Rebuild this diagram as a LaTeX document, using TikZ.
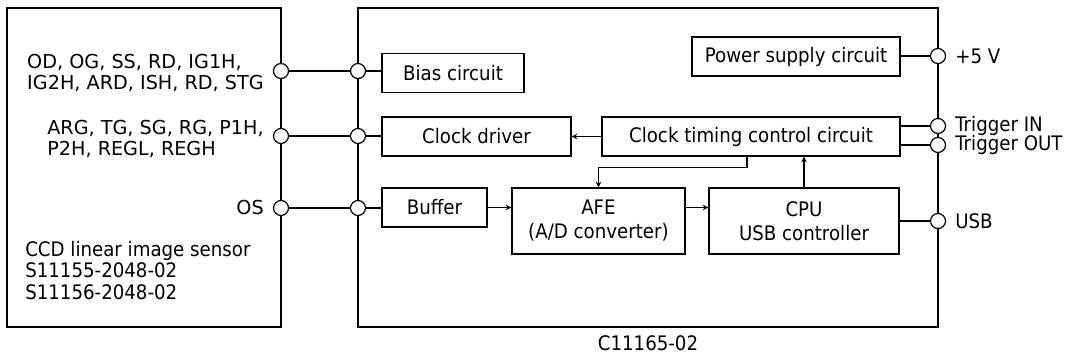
\documentclass[tikz,border=0pt]{standalone}
\usepackage{fontspec}
\setmainfont[FakeStretch=0.91]{DejaVu Sans}
\newfontfamily\pinfont{DejaVu Sans}
\begin{document}
\begin{tikzpicture}[x=0.75pt,y=-0.75pt,>=stealth,
    frame/.style={line width=2pt},
    blk/.style={draw,line width=0.9pt,minimum height=29.25pt,inner sep=0pt,
      font=\fontsize{15}{18}\selectfont,align=center},
    pin/.style={draw,circle,fill=white,minimum size=11.25pt,inner sep=0pt,line width=0.9pt},
    wire/.style={line width=0.9pt},
    lbl/.style={font=\fontsize{15}{16}\selectfont,align=left,inner sep=0pt},
    sig/.style={font=\pinfont\fontsize{14.4}{16.3}\selectfont,align=left,inner sep=0pt}]
  \useasboundingbox (0,0) rectangle (1066,358);
  % sensor and board
  \draw[frame] (7,8) rectangle (281,327);
  \draw[frame] (358,8) rectangle (938,327);
  \node[lbl,anchor=north west] (ccd) at (25,241) {CCD linear image sensor\\S11155-2048-02\\S11156-2048-02};
  \node[lbl,anchor=north] (model) at (648,335) {C11165-02};
  % blocks
  \node[blk,minimum width=106.5pt] (bias) at (453,73) {Bias circuit};
  \node[blk,minimum width=141.75pt] (clkdrv) at (476.5,136.5) {Clock driver};
  \node[blk,minimum width=223.5pt] (timing) at (751,136.5) {Clock timing control circuit};
  \node[blk,minimum width=156pt] (power) at (796,56.5) {Power supply circuit};
  \node[blk,minimum width=78.75pt] (buffer) at (434.5,207.5) {Buffer};
  \node[blk,minimum width=129.75pt,minimum height=49.5pt] (afe) at (598.5,221) {AFE\\(A/D converter)};
  \node[blk,minimum width=142.5pt,minimum height=49.5pt] (cpu) at (804,221) {CPU\\USB controller};
  % pins
  \node[pin] (p1) at (281,71) {};
  \node[pin] (p2) at (281,136) {};
  \node[pin] (p3) at (281,208) {};
  \node[pin] (q1) at (358,71) {};
  \node[pin] (q2) at (358,136) {};
  \node[pin] (q3) at (358,208) {};
  \node[pin] (r1) at (938,56) {};
  \node[pin] (r2) at (938,126) {};
  \node[pin] (r3) at (938,145) {};
  \node[pin] (r4) at (938,221) {};
  \node[sig,anchor=east] (l1) at (264,73) {OD, OG, SS, RD, IG1H,\\IG2H, ARD, ISH, RD, STG};
  \node[sig,anchor=east] (l2) at (264,139) {ARG, TG, SG, RG, P1H,\\P2H, REGL, REGH};
  \node[sig,anchor=east] (l3) at (264,208) {OS};
  \node[lbl,anchor=west] (v5) at (955,56) {+5 V};
  \node[lbl,anchor=west] (tin) at (955,126) {Trigger IN};
  \node[lbl,anchor=west] (tout) at (955,145) {Trigger OUT};
  \node[lbl,anchor=west] (usb) at (955,221) {USB};
  % wiring
  \draw[wire] (p1) -- (q1) (q1) -- (q1 -| bias.west);
  \draw[wire] (p2) -- (q2) (q2) -- (q2 -| clkdrv.west);
  \draw[wire] (p3) -- (q3) (q3) -- (q3 -| buffer.west);
  \draw[wire] (power.east |- r1) -- (r1);
  \draw[wire] (r2 -| timing.east) -- (r2);
  \draw[wire] (r3 -| timing.east) -- (r3);
  \draw[wire] (r4 -| cpu.east) -- (r4);
  \draw[wire,->] (timing.west) -- (clkdrv.east);
  \draw[wire,->] ([xshift=-3pt]timing.south) -- ++(0,11) -| (afe.north);
  \draw[wire,->] (buffer.east) -- (buffer.east -| afe.west);
  \draw[wire,->] (buffer.east -| afe.east) -- (buffer.east -| cpu.west);
  \draw[wire,->] (cpu.north) -- (cpu.north |- timing.south);
\end{tikzpicture}
\end{document}
